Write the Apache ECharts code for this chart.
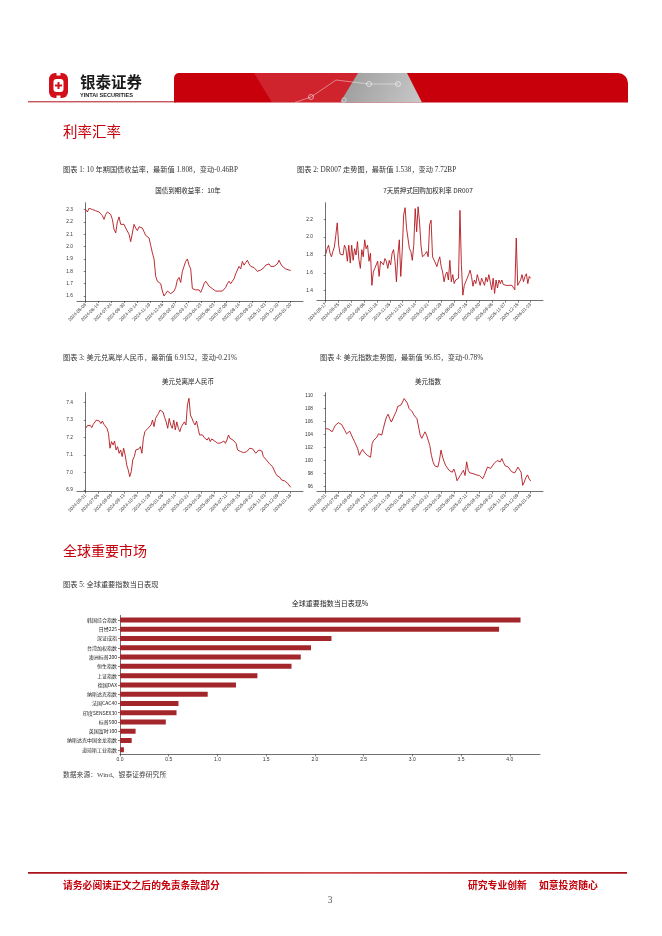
<!DOCTYPE html>
<html><head><meta charset="utf-8">
<script src="https://cdn.jsdelivr.net/npm/echarts@6/dist/echarts.min.js"></script>
<style>html,body{margin:0;padding:0;background:#fff}#c{width:662px;height:936px}</style>
</head><body><div id="c"></div>
<script>
// ---------- data ----------
const bondTicks = ['2024-05-08','2024-06-14','2024-07-24','2024-08-30','2024-10-14','2024-11-19','2024-12-26','2025-02-07','2025-03-17','2025-04-23','2025-06-03','2025-07-09','2025-08-14','2025-09-22','2025-11-03','2025-12-10','2026-01-20'];
const bondYield = [2.30,2.28,2.31,2.32,2.30,2.29,2.29,2.28,2.28,2.27,2.25,2.22,2.26,2.28,2.27,2.26,2.22,2.14,2.11,2.20,2.24,2.18,2.17,2.18,2.15,2.14,2.10,2.04,2.05,2.18,2.15,2.13,2.16,2.16,2.15,2.12,2.09,2.10,2.07,2.01,1.95,1.90,1.76,1.72,1.73,1.70,1.64,1.60,1.62,1.64,1.65,1.62,1.61,1.64,1.67,1.73,1.75,1.71,1.80,1.84,1.88,1.90,1.85,1.82,1.66,1.65,1.65,1.66,1.65,1.63,1.66,1.70,1.72,1.71,1.68,1.67,1.66,1.65,1.64,1.64,1.64,1.65,1.64,1.65,1.67,1.70,1.72,1.70,1.70,1.74,1.78,1.79,1.84,1.82,1.88,1.85,1.87,1.89,1.86,1.84,1.85,1.83,1.84,1.80,1.81,1.81,1.82,1.83,1.85,1.84,1.86,1.84,1.85,1.84,1.85,1.86,1.89,1.86,1.84,1.83,1.82,1.82,1.81,1.808];
const bondYTicks = [1.6,1.7,1.8,1.9,2.0,2.1,2.2,2.3];

const drTicks = ['2024-05-17','2024-06-25','2024-08-01','2024-09-06','2024-10-18','2024-11-25','2024-12-31','2025-02-14','2025-03-21','2025-04-29','2025-06-09','2025-07-15','2025-08-20','2025-09-26','2025-11-07','2025-12-15','2026-01-23'];
const dr007 = [1.81,1.87,1.91,1.82,1.78,1.84,1.89,2.02,2.16,1.91,
1.81,1.82,1.80,1.91,1.87,1.73,1.91,1.71,1.91,1.74,
1.87,1.80,1.95,1.75,1.65,1.86,1.78,1.97,1.87,1.91,
1.73,1.82,1.46,1.61,1.65,1.63,1.73,1.56,1.73,1.74,
1.69,1.76,1.73,1.65,1.74,1.69,1.82,1.86,1.73,1.50,
1.80,1.97,1.56,1.84,2.25,2.33,2.10,2.12,1.87,1.84,
1.74,1.91,2.32,2.06,2.34,2.17,1.91,1.78,1.80,1.81,
1.84,1.78,2.14,2.19,1.78,1.76,1.71,1.67,1.73,1.78,
1.67,1.61,1.50,1.58,1.61,1.52,1.74,1.50,1.58,1.48,
1.52,1.50,1.54,2.30,1.69,1.35,1.46,1.50,1.54,1.58,
1.63,1.56,1.45,1.52,1.48,1.58,1.59,1.46,1.54,1.52,
1.46,1.55,1.50,1.58,1.50,1.41,1.54,1.37,1.52,1.43,
1.52,1.48,1.52,1.47,1.49,1.46,1.47,1.46,1.44,1.46,
1.45,1.41,1.99,1.46,1.48,1.52,1.58,1.50,1.56,1.59,
1.48,1.56,1.538];
const drYTicks = [1.4,1.6,1.8,2.0,2.2];

const fxTicks = ['2024-05-31','2024-07-05','2024-08-09','2024-09-13','2024-10-25','2024-11-29','2025-01-06','2025-02-14','2025-03-21','2025-04-28','2025-06-05','2025-07-11','2025-08-15','2025-09-22','2025-11-03','2025-12-09','2026-01-16'];
const usdCnh = [7.253,7.268,7.26,7.27,7.257,7.276,7.287,7.30,7.31,7.295,
7.28,7.295,7.276,7.287,7.253,7.224,7.139,7.177,7.158,7.18,
7.129,7.148,7.11,7.129,7.091,7.139,7.10,7.043,7.015,6.976,
7.005,7.072,7.091,7.129,7.139,7.135,7.148,7.11,7.196,7.234,
7.244,7.253,7.257,7.272,7.30,7.263,7.31,7.314,7.339,7.358,
7.351,7.345,7.314,7.29,7.253,7.31,7.272,7.253,7.30,7.244,
7.29,7.253,7.234,7.263,7.272,7.29,7.272,7.387,7.425,7.329,
7.31,7.287,7.272,7.295,7.253,7.215,7.205,7.215,7.20,7.196,
7.186,7.20,7.177,7.192,7.196,7.18,7.173,7.167,7.167,7.17,
7.173,7.18,7.167,7.186,7.215,7.196,7.20,7.186,7.192,7.167,
7.129,7.123,7.12,7.11,7.114,7.104,7.119,7.129,7.139,7.146,
7.135,7.129,7.11,7.10,7.129,7.119,7.123,7.091,7.10,7.072,
7.062,7.05,7.058,7.034,7.015,6.996,6.982,6.976,6.971,6.957,
6.962,6.952,6.957,6.938,6.929,6.9152];
const cnhYTicks = [6.9,7.0,7.1,7.2,7.3,7.4];

const dxy = [104.9,105.2,104.8,105.0,104.4,104.9,105.4,105.5,105.8,106.0,
105.5,105.2,104.6,104.1,104.4,104.5,104.3,103.4,102.9,102.8,
101.8,100.8,101.3,101.7,101.3,101.6,100.8,101.0,100.5,102.6,
103.1,103.4,103.6,104.1,104.4,103.9,104.9,105.9,106.7,107.1,
106.4,105.9,106.2,107.0,107.5,108.3,108.0,108.5,108.8,109.5,
109.3,108.8,108.0,108.3,107.5,107.0,107.3,106.4,106.7,103.9,
103.4,103.5,104.4,103.9,103.1,102.3,100.8,99.8,99.2,99.5,
99.0,100.0,101.6,100.5,99.8,99.2,99.0,98.5,98.7,98.2,
98.7,98.0,96.9,97.2,97.7,98.0,98.5,97.7,99.8,98.5,
98.1,98.4,98.0,98.2,97.8,98.1,97.7,98.0,97.2,97.7,
98.0,99.0,98.7,98.8,99.0,99.5,99.2,100.0,100.3,99.8,
100.3,99.7,99.2,99.3,99.0,98.7,98.3,98.2,98.1,98.5,
99.0,99.2,98.2,96.2,96.7,97.4,97.8,97.2,96.85];
const dxyYTicks = [96,98,100,102,104,106,108,110];

const indexNames = ['韩国综合指数','日经225','深证成指','台湾加权指数','澳洲标普200','恒生指数','上证指数','德国DAX','纳斯达克指数','法国CAC40','印度SENSEX30','标普500','英国富时100','纳斯达克中国金龙指数','道琼斯工业指数'];
const indexChange = [4.11,3.89,2.17,1.96,1.855,1.76,1.41,1.19,0.90,0.60,0.58,0.47,0.16,0.12,0.04];
const barTicks = [0,0.5,1.0,1.5,2.0,2.5,3.0,3.5,4.0];

// ---------- layout ----------
const RED = '#c4000b';
const LINE = '#b3161d';
const AX = '#333';
const SANS = '"Liberation Sans","Noto Sans CJK SC",sans-serif';
const CJK = '"Noto Sans CJK SC",sans-serif';
const SERIF = '"Liberation Serif","Noto Sans CJK SC",serif';

const grids = [
  {left:77, top:202.7, width:226, height:98.3},
  {left:317, top:202.7, width:226, height:98},
  {left:77, top:392.7, width:226, height:99},
  {left:317, top:392.7, width:226, height:99},
  {left:120, top:615.4, width:420, height:139}
];
const lines = [
  {vals:bondYield, ticks:bondTicks, yt:bondYTicks, ymin:1.56, ymax:2.355, dec:1},
  {vals:dr007, ticks:drTicks, yt:drYTicks, ymin:1.288, ymax:2.386, dec:1},
  {vals:usdCnh, ticks:fxTicks, yt:cnhYTicks, ymin:6.89, ymax:7.457, dec:1},
  {vals:dxy, ticks:fxTicks, yt:dxyYTicks, ymin:95.22, ymax:110.4, dec:0}
];
const xAxes = [], yAxes = [], series = [];
lines.forEach((L, i) => {
  const n = L.vals.length, span = n - 1, m = L.ticks.length;
  const pos = L.ticks.map((t, k) => k * span / (m - 1));
  xAxes.push({
    type:'value', gridIndex:i, min:-span*8.7/205, max:span*(1+12.3/205),
    splitLine:{show:false},
    axisLine:{show:true, lineStyle:{color:AX, width:0.7}},
    axisTick:{show:true, customValues:pos, length:2, lineStyle:{color:AX, width:0.6}},
    axisLabel:{customValues:pos, rotate:45, fontSize:4.6, color:'#333', margin:3, fontFamily:SANS,
      formatter:(v) => L.ticks[Math.round(v * (m - 1) / span)]}
  });
  yAxes.push({
    type:'value', gridIndex:i, min:L.ymin, max:L.ymax, scale:true,
    splitLine:{show:false},
    axisLine:{show:true, lineStyle:{color:AX, width:0.7}},
    axisTick:{show:true, customValues:L.yt, length:2, lineStyle:{color:AX, width:0.6}},
    axisLabel:{customValues:L.yt, fontSize:4.8, color:'#333', margin:4, fontFamily:SANS,
      formatter:(v) => v.toFixed(L.dec)}
  });
  series.push({
    type:'line', xAxisIndex:i, yAxisIndex:i, showSymbol:false, symbol:'none',
    data:L.vals.map((v, k) => [k, v]),
    lineStyle:{color:LINE, width:0.9}
  });
});
xAxes.push({
  type:'value', gridIndex:4, min:0, max:4.31,
  splitLine:{show:false},
  axisLine:{show:true, lineStyle:{color:AX, width:0.7}},
  axisTick:{show:true, customValues:barTicks, length:2, lineStyle:{color:AX, width:0.6}},
  axisLabel:{customValues:barTicks, fontSize:5, color:'#333', margin:3, fontFamily:SANS,
    formatter:(v) => v.toFixed(1)}
});
yAxes.push({
  type:'category', gridIndex:4, data:indexNames, inverse:true,
  axisLine:{show:true, lineStyle:{color:AX, width:0.7}},
  axisTick:{show:true, length:2, alignWithLabel:true, lineStyle:{color:AX, width:0.6}},
  axisLabel:{fontSize:5, color:'#222', margin:3, fontFamily:CJK}
});
series.push({
  type:'bar', xAxisIndex:4, yAxisIndex:4, data:indexChange, barWidth:5,
  itemStyle:{color:'#a3262b'}
});

function txt(text, x, y, font, fill, align) {
  return {type:'text', silent:true, style:{text, x, y, font, fill:fill || '#333',
    textAlign:align || 'left', textVerticalAlign:'middle', align:align || 'left', verticalAlign:'middle'}};
}

const graphics = [
  // logo
  {type:'rect', shape:{x:49, y:73, width:19, height:25, r:6}, style:{fill:'#d2101a'}},
  {type:'rect', shape:{x:53.5, y:79, width:10, height:13, r:3}, style:{fill:'#fff'}},
  {type:'rect', shape:{x:57.5, y:82, width:2, height:7}, style:{fill:'#d2101a'}},
  {type:'rect', shape:{x:55, y:84.5, width:7, height:2}, style:{fill:'#d2101a'}},
  {type:'rect', shape:{x:56.5, y:72.5, width:4, height:3}, style:{fill:'#fff'}},
  {type:'rect', shape:{x:56.5, y:95.5, width:4, height:3}, style:{fill:'#fff'}},
  txt('银泰证券', 80, 82.5, 'bold 15.5px ' + CJK, '#1a1a1a'),
  txt('YINTAI SECURITIES', 80, 95.5, 'bold 5.6px ' + SANS, '#222'),
  // header band
  {type:'line', shape:{x1:28, y1:101.8, x2:176, y2:101.8}, style:{stroke:'#b0101a', lineWidth:1}},
  {type:'rect', shape:{x:174, y:73, width:454, height:29.5, r:[5,10,0,0]}, style:{fill:'#c8000b'}},
  {type:'polygon', shape:{points:[[254,73],[358,73],[340,102.5],[272,102.5]]}, style:{fill:'rgba(255,255,255,0.14)'}},
  {type:'polygon', shape:{points:[[358,73],[407,73],[422,102.5],[340,102.5]]},
    style:{fill:{type:'linear', x:0, y:0, x2:1, y2:1, colorStops:[{offset:0, color:'#9a9a9a'}, {offset:1, color:'#c8c8c8'}]}}},
  {type:'polyline', shape:{points:[[295,102.5],[311,97],[336,80],[369,84],[398,84]]}, style:{stroke:'rgba(255,255,255,0.55)', lineWidth:0.8, fill:null}},
  {type:'circle', shape:{cx:311, cy:97, r:2.5}, style:{stroke:'rgba(255,255,255,0.7)', lineWidth:0.8, fill:'none'}},
  {type:'circle', shape:{cx:369, cy:84, r:2.5}, style:{stroke:'rgba(255,255,255,0.7)', lineWidth:0.8, fill:'none'}},
  {type:'circle', shape:{cx:398, cy:84, r:2.5}, style:{stroke:'rgba(255,255,255,0.7)', lineWidth:0.8, fill:'none'}},
  {type:'circle', shape:{cx:344, cy:100, r:2.2}, style:{stroke:'rgba(255,255,255,0.6)', lineWidth:0.8, fill:'none'}},
  // section 1
  txt('利率汇率', 63, 131.5, 'normal 14.5px ' + CJK, RED),
  txt('图表 1: 10 年期国债收益率，最新值 1.808，变动-0.46BP', 63, 170, 'normal 7.2px ' + SERIF, '#333'),
  txt('图表 2: DR007 走势图，最新值 1.538，变动 7.72BP', 297, 170, 'normal 7.2px ' + SERIF, '#333'),
  txt('国债到期收益率：10年', 188, 191, 'normal 6.5px ' + CJK, '#222', 'center'),
  txt('7天质押式回购加权利率 DR007', 428, 190.5, 'normal 6.5px ' + CJK, '#222', 'center'),
  txt('图表 3: 美元兑离岸人民币，最新值 6.9152，变动-0.21%', 63, 358, 'normal 7.2px ' + SERIF, '#333'),
  txt('图表 4: 美元指数走势图，最新值 96.85，变动-0.78%', 320, 358, 'normal 7.2px ' + SERIF, '#333'),
  txt('美元兑离岸人民币', 188, 382, 'normal 6.5px ' + CJK, '#222', 'center'),
  txt('美元指数', 428, 382, 'normal 6.5px ' + CJK, '#222', 'center'),
  // section 2
  txt('全球重要市场', 63, 550.5, 'normal 14px ' + CJK, RED),
  txt('图表 5: 全球重要指数当日表现', 63, 585, 'normal 7.2px ' + SERIF, '#333'),
  txt('全球重要指数当日表现%', 330, 603, 'normal 7px ' + CJK, '#222', 'center'),
  txt('数据来源：Wind、银泰证券研究所', 63, 775, 'normal 6.8px ' + SERIF, '#444'),
  // footer
  {type:'rect', shape:{x:28, y:872, width:599, height:1.8},
    style:{fill:{type:'linear', x:0, y:0, x2:1, y2:0, colorStops:[{offset:0, color:'#a8101a'}, {offset:0.5, color:'#d04848'}, {offset:1, color:'#a8101a'}]}}},
  txt('请务必阅读正文之后的免责条款部分', 63, 885, 'bold 9.8px ' + CJK, RED),
  txt('研究专业创新', 468, 885, 'bold 9.8px ' + CJK, RED),
  txt('如意投资随心', 539, 885, 'bold 9.8px ' + CJK, RED),
  txt('3', 330, 900, 'normal 9.5px ' + SERIF, '#555', 'center')
];

const chart = echarts.init(document.getElementById('c'), null, {renderer:'canvas', width:662, height:936});
chart.setOption({
  backgroundColor:'#fff',
  animation:false,
  grid:grids,
  xAxis:xAxes,
  yAxis:yAxes,
  series:series,
  graphic:{elements:graphics}
});
</script>
</body></html>
